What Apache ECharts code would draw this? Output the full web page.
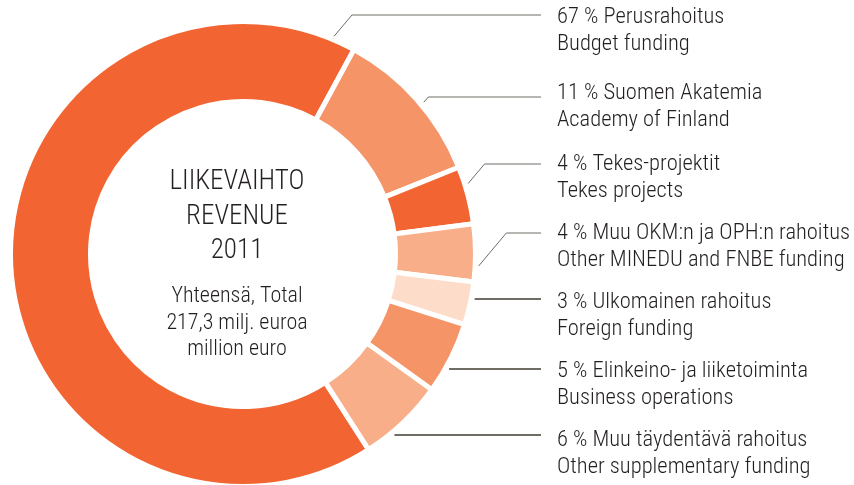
<!DOCTYPE html>
<html>
<head>
<meta charset="utf-8">
<script src="https://cdn.jsdelivr.net/npm/echarts@6/dist/echarts.min.js"></script>
<style>
  html, body { margin: 0; padding: 0; background: #fff; }
  #chart { width: 854px; height: 485px; }
</style>
</head>
<body>
<div id="chart"></div>
<script>
// data, in the order the labels are listed
const shares = [67, 11, 4, 4, 3, 5, 6];
const namesFi = ['Perusrahoitus', 'Suomen Akatemia', 'Tekes-projektit', 'Muu OKM:n ja OPH:n rahoitus',
  'Ulkomainen rahoitus', 'Elinkeino- ja liiketoiminta', 'Muu täydentävä rahoitus'];
const namesEn = ['Budget funding', 'Academy of Finland', 'Tekes projects', 'Other MINEDU and FNBE funding',
  'Foreign funding', 'Business operations', 'Other supplementary funding'];
const centerTitle = ['LIIKEVAIHTO', 'REVENUE', '2011'];
const centerTotal = ['Yhteensä, Total', '217,3 milj. euroa', 'million euro'];

// look
const colors = ['#f26532', '#f59467', '#f26532', '#f8ae89', '#fddcc9', '#f59467', '#f8ae89'];
const FONT = "'Roboto Condensed', sans-serif";
const cx = 243, cy = 254, rOut = 232.5, rIn = 152.5;
const textX = 557, lineEndX = 541, lineH = 27;
const textY = [17, 93, 164, 233, 302, 371, 440];   // centre of first text line
const lineY = [15, 97, 164, 233, 299, 369, 435];   // height of the leader
const anchorDeg = [22.7, 50, 72.6, 92.9, null, null, null]; // where slanted leaders start (clockwise from top)
const anchorR = 236;

const myChart = echarts.init(document.getElementById('chart'), null, { renderer: 'canvas' });

// slices run clockwise; the 67 % slice ends where the 11 % slice begins
const startTop = 28.5 - shares[0] / 100 * 360;
const startAngle = 90 - startTop;

function leader(i) {
  const y = lineY[i];
  let sx, sy, ex;
  if (anchorDeg[i] != null) {
    const a = anchorDeg[i] * Math.PI / 180;
    sx = cx + anchorR * Math.sin(a);
    sy = cy - anchorR * Math.cos(a);
    ex = sx + (sy - y) * Math.tan(40 * Math.PI / 180);
  } else {
    const dy = y - cy;
    sx = cx + Math.sqrt(anchorR * anchorR - dy * dy);
    sy = y;
    ex = sx;
  }
  return [[sx, sy], [ex, y], [lineEndX, y]];
}

const option = {
  animation: false,
  graphic: [
    {
      type: 'text', x: 237, y: 217,
      style: {
        text: centerTitle.join('\n'), fill: '#231f20', font: '300 27px ' + FONT,
        lineHeight: 34.5, textAlign: 'center', textVerticalAlign: 'middle'
      }
    },
    {
      type: 'text', x: 237, y: 323,
      style: {
        text: centerTotal.join('\n'), fill: '#231f20', font: '300 22px ' + FONT,
        lineHeight: 26.5, textAlign: 'center', textVerticalAlign: 'middle'
      }
    }
  ],
  series: [
    {
      type: 'pie',
      center: [cx, cy],
      radius: [rIn, rOut],
      startAngle: startAngle,
      clockwise: true,
      avoidLabelOverlap: false,
      silent: true,
      itemStyle: { borderColor: '#fff', borderWidth: 5 },
      label: {
        show: true,
        position: 'outside',
        width: 330,
        color: '#231f20',
        fontFamily: FONT,
        fontWeight: 300,
        fontSize: 22.5,
        lineHeight: lineH,
        formatter: p => shares[p.dataIndex] + ' % ' + namesFi[p.dataIndex] + '\n' + namesEn[p.dataIndex]
      },
      labelLine: { show: true, lineStyle: { color: '#6f6c64', width: 1 } },
      labelLayout: p => ({
        x: textX,
        y: textY[p.dataIndex] - lineH / 2,
        align: 'left',
        verticalAlign: 'top',
        labelLinePoints: leader(p.dataIndex)
      }),
      data: shares.map((v, i) => ({
        value: v,
        name: namesFi[i],
        itemStyle: { color: colors[i] },
        labelLine: { lineStyle: { width: anchorDeg[i] == null ? 2 : 1 } }
      }))
    }
  ]
};

myChart.setOption(option);
window.addEventListener('resize', () => myChart.resize());
</script>
</body>
</html>
